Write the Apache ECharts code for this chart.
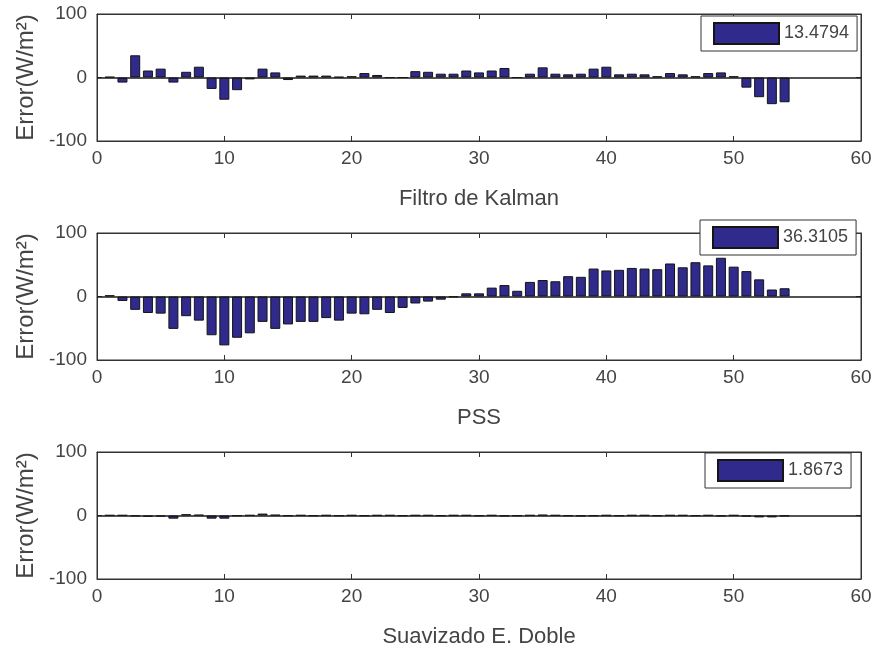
<!DOCTYPE html>
<html><head><meta charset="utf-8">
<script src="https://cdn.jsdelivr.net/npm/echarts@6/dist/echarts.min.js"></script>
<style>html,body{margin:0;padding:0;background:#fff}#c{width:879px;height:653px}</style>
</head><body><div id="c"></div>
<script>
// Error per sample (W/m^2), samples 1..54
const kalman = [1,-8,35,11,14,-8,9,17,-18,-35,-20,-3,14,8,-4,3,3,3,1,2,7,4,0,0,10,9,6,6,11,8,11,15,0,6,16,6,5,6,14,17,5,6,5,2,7,5,2,7,8,2,-16,-31,-42,-39];
const pss = [2,-7,-21,-26,-27,-51,-31,-38,-61,-77,-65,-58,-40,-51,-44,-40,-40,-34,-38,-27,-28,-21,-26,-18,-11,-8,-5,-1,5,5,14,18,9,23,26,24,32,31,44,41,42,45,44,43,52,46,54,49,61,47,40,27,11,13];
const suav = [0.5,0.5,-1,-2,-1.5,-5,2,1,-5,-5,-0.5,0.5,3,1,-0.5,0.5,-0.5,0.5,-0.5,0.5,-0.5,0.5,0.5,-0.5,0.5,0.5,-0.5,0.5,0.5,-0.5,0.5,-1,-0.5,0.5,1,0.5,-0.5,-1,-0.5,0.5,-0.5,0.5,0.5,-0.5,0.5,0.5,-0.5,0.5,-1,0.5,-1.5,-3,-3,-1];
const seriesNames = ['13.4794','36.3105','1.8673'];
const xTitles = ['Filtro de Kalman','PSS','Suavizado E. Doble'];
const yTitle = 'Error(W/m²)';
const xTicks = {min:0,max:60,interval:10};
const yTicks = {min:-100,max:100,interval:100};

const datasets = [kalman, pss, suav];
const gridTops = [14, 233, 452];
const legendPos = [[701,16],[700,220],[705,453]];
const FONT = 'Liberation Sans, Arial, sans-serif';
const TXT = '#444';
const LINE = '#333';

const option = {animation:false, textStyle:{fontFamily:FONT}, grid:[], xAxis:[], yAxis:[], series:[], legend:[]};
datasets.forEach((d,i)=>{
  option.grid.push({left:97, right:18, top:gridTops[i], height:127, show:true, borderColor:LINE, borderWidth:1});
  option.xAxis.push({type:'value', gridIndex:i, min:xTicks.min, max:xTicks.max, interval:xTicks.interval,
    name:xTitles[i], nameLocation:'middle', nameGap:47, nameTextStyle:{fontSize:22,color:TXT,fontFamily:FONT},
    axisLine:{show:true,onZero:false,lineStyle:{color:LINE,width:1}}, axisTick:{show:true,inside:true,length:5,lineStyle:{color:LINE}},
    axisLabel:{fontSize:19,color:TXT,margin:8,fontFamily:FONT}, splitLine:{show:false}});
  option.xAxis.push({type:'value', gridIndex:i, position:'top', min:xTicks.min, max:xTicks.max, interval:xTicks.interval,
    axisLine:{show:true,onZero:false,lineStyle:{color:LINE}}, axisTick:{show:true,inside:true,length:5,lineStyle:{color:LINE}},
    axisLabel:{show:false}, splitLine:{show:false}});
  option.yAxis.push({type:'value', gridIndex:i, min:yTicks.min, max:yTicks.max, interval:yTicks.interval,
    name:yTitle, nameLocation:'middle', nameGap:57, nameRotate:90, nameTextStyle:{fontSize:24,color:TXT,fontFamily:FONT},
    axisLine:{show:true,onZero:false,lineStyle:{color:LINE}}, axisTick:{show:true,inside:true,length:5,lineStyle:{color:LINE}},
    axisLabel:{fontSize:19,color:TXT,margin:10,fontFamily:FONT}, splitLine:{show:false}});
  option.yAxis.push({type:'value', gridIndex:i, position:'right', min:yTicks.min, max:yTicks.max, interval:yTicks.interval,
    axisLine:{show:true,onZero:false,lineStyle:{color:LINE}}, axisTick:{show:true,inside:true,length:5,lineStyle:{color:LINE}},
    axisLabel:{show:false}, splitLine:{show:false}});
  option.series.push({type:'bar', name:seriesNames[i], xAxisIndex:2*i, yAxisIndex:2*i,
    data:d.map((v,k)=>[k+1,v]), barWidth:10,
    itemStyle:{color:'#2f2a8c', borderColor:'#151515', borderWidth:1},
    markLine:{silent:true, symbol:['none','none'], label:{show:false}, animation:false,
      lineStyle:{color:'#1a1a1a', width:1.5, type:'solid'}, data:[{yAxis:0}]}});
  option.legend.push({data:[seriesNames[i]], left:legendPos[i][0], top:legendPos[i][1], orient:'horizontal',
    icon:'rect', itemWidth:65, itemHeight:21, padding:[6,8,6,12], backgroundColor:'#fff',
    borderColor:LINE, borderWidth:1, borderRadius:0, selectedMode:false,
    textStyle:{fontSize:18,color:TXT,fontFamily:FONT}});
});
const chart = echarts.init(document.getElementById('c'), null, {renderer:'canvas'});
chart.setOption(option);
</script></body></html>
